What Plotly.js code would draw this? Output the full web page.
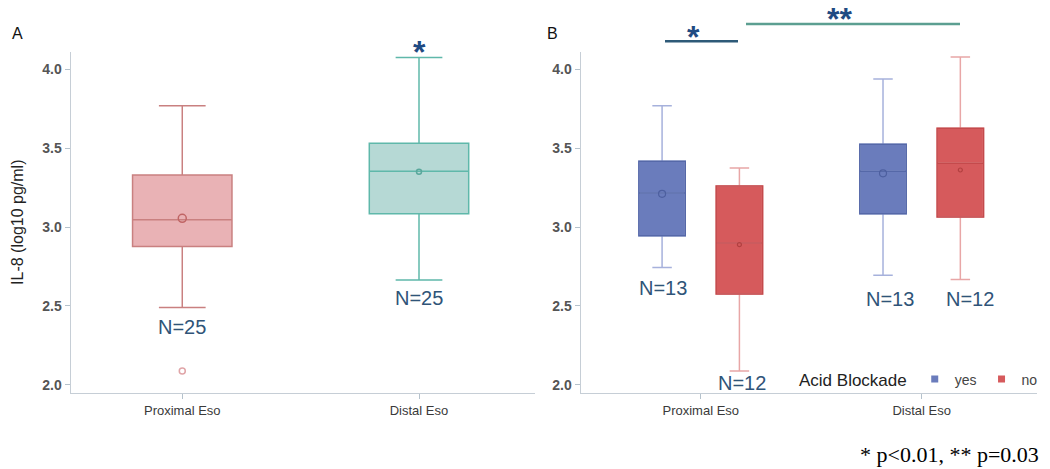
<!DOCTYPE html>
<html>
<head>
<meta charset="utf-8">
<script src="https://cdn.plot.ly/plotly-3.0.1.min.js"></script>
<style>html,body{margin:0;padding:0;background:#fff;}#chart{width:1050px;height:469px;}</style>
</head>
<body>
<div id="chart"></div>
<script>
// ---------- data ----------
const categories = ['Proximal Eso', 'Distal Eso'];

// Panel A: all patients
const allQ1 = [2.877, 3.084];
const allMedian = [3.046, 3.353];
const allQ3 = [3.330, 3.530];
const allLow = [2.490, 2.665];
const allHigh = [3.767, 4.074];
const allMean = [3.055, 3.350];
const allN = [25, 25];
const allOutlierCat = ['Proximal Eso'];
const allOutlierVal = [2.089];

// Panel B: by acid blockade
const groupNames = ['yes', 'no'];
const yesQ1 = [2.945, 3.084];
const yesMedian = [3.216, 3.353];
const yesQ3 = [3.417, 3.524];
const yesLow = [2.743, 2.694];
const yesHigh = [3.767, 3.937];
const yesMean = [3.210, 3.340];
const yesN = [13, 13];

const noQ1 = [2.576, 3.063];
const noMedian = [2.899, 3.404];
const noQ3 = [3.260, 3.626];
const noLow = [2.089, 2.668];
const noHigh = [3.374, 4.076];
const noMean = [2.888, 3.361];
const noN = [12, 12];

const yTickVals = [2.0, 2.5, 3.0, 3.5, 4.0];
const yAxisTitle = 'IL-8 (log10 pg/ml)';
const legendTitle = 'Acid Blockade';
const footnote = '* p<0.01, ** p=0.03';

// ---------- styling / layout constants ----------
const W = 1050, H = 469;
const px = v => v / W;
const py = v => 1 - v / H;
const BOXGAP = 0.3, BOXGROUPGAP = 0.4;
const groupOffset = 0.25 * (1 - BOXGAP);
const nColor = '#2f5478';
const starColor = '#1f4a82';

const leftStyle = [
  {fill: '#e9b2b5', line: '#c98080', mean: '#c06565'},
  {fill: '#b6d9d5', line: '#5fb8aa', mean: '#5aa89c'}
];
const rightStyle = {
  yes: {fill: '#6a7cbc', outline: '#5568a8', whisker: '#a6b1dc', mean: '#4d5f9f'},
  no:  {fill: '#d65a5c', outline: '#c44a4c', whisker: '#e8a6a6', mean: '#b24040'}
};

const traces = [];

// Panel A boxes
categories.forEach((c, i) => {
  traces.push({
    type: 'box', xaxis: 'x', yaxis: 'y', name: c, showlegend: false,
    x: [c], q1: [allQ1[i]], median: [allMedian[i]], q3: [allQ3[i]],
    lowerfence: [allLow[i]], upperfence: [allHigh[i]],
    boxmean: false, boxpoints: false, width: 0.42, whiskerwidth: 0.47,
    fillcolor: leftStyle[i].fill, line: {color: leftStyle[i].line, width: 1.5},
    hoverinfo: 'skip'
  });
  traces.push({
    type: 'scatter', mode: 'markers', xaxis: 'x', yaxis: 'y', showlegend: false,
    x: [c], y: [allMean[i]],
    marker: {symbol: 'circle-open', size: i === 0 ? 8 : 5, color: leftStyle[i].mean, line: {width: 1.5}},
    hoverinfo: 'skip'
  });
});
traces.push({
  type: 'scatter', mode: 'markers', xaxis: 'x', yaxis: 'y', showlegend: false,
  x: allOutlierCat, y: allOutlierVal,
  marker: {symbol: 'circle-open', size: 6, color: '#e0a5a8', line: {width: 1.5}},
  hoverinfo: 'skip'
});

// Panel B boxes
const bData = {
  yes: {q1: yesQ1, med: yesMedian, q3: yesQ3, lo: yesLow, hi: yesHigh, mean: yesMean},
  no:  {q1: noQ1,  med: noMedian,  q3: noQ3,  lo: noLow,  hi: noHigh,  mean: noMean}
};
groupNames.forEach((g, gi) => {
  const d = bData[g], s = rightStyle[g];
  // whiskers (light)
  traces.push({
    type: 'box', xaxis: 'x2', yaxis: 'y2', name: g, showlegend: false,
    alignmentgroup: 'B', offsetgroup: g,
    x: categories, q1: d.q1, median: d.med, q3: d.q3, lowerfence: d.lo, upperfence: d.hi,
    boxmean: false, boxpoints: false, whiskerwidth: 0.42,
    fillcolor: s.fill, line: {color: s.whisker, width: 1.5}, hoverinfo: 'skip'
  });
  // box outline + median (darker)
  traces.push({
    type: 'box', xaxis: 'x2', yaxis: 'y2', name: g, showlegend: false,
    alignmentgroup: 'B', offsetgroup: g,
    x: categories, q1: d.q1, median: d.med, q3: d.q3, lowerfence: d.q1, upperfence: d.q3,
    boxmean: false, boxpoints: false, whiskerwidth: 0,
    fillcolor: 'rgba(0,0,0,0)', line: {color: s.outline, width: 1.5}, hoverinfo: 'skip'
  });
  // means
  traces.push({
    type: 'scatter', mode: 'markers', xaxis: 'x3', yaxis: 'y2', showlegend: false,
    x: categories.map((c, i) => i + (gi === 0 ? -groupOffset : groupOffset)), y: d.mean,
    marker: {symbol: 'circle-open', size: gi === 0 ? 7 : 4, color: s.mean, line: {width: 1.2}},
    hoverinfo: 'skip'
  });
  // legend entry
  traces.push({
    type: 'scatter', mode: 'markers', xaxis: 'x3', yaxis: 'y2', name: g, showlegend: true,
    x: [null], y: [null],
    marker: {symbol: 'square', size: 7, color: s.fill}
  });
});

// ---------- annotations ----------
const annotations = [];
const nFont = {family: 'Liberation Sans, Arial, sans-serif', size: 20, color: nColor};
const leftShift = [-19.4, -17.7];
categories.forEach((c, i) => {
  annotations.push({xref: 'x', yref: 'y', x: c, y: allLow[i], yshift: leftShift[i],
    text: 'N=' + allN[i], showarrow: false, font: nFont, yanchor: 'middle'});
});
const rightShift = {yes: [-20.6, -23.7], no: [-12.3, -19.7]};
const rightXShift = {yes: [1, 7], no: [3, 10]};
groupNames.forEach((g, gi) => {
  const ns = g === 'yes' ? yesN : noN;
  const lo = g === 'yes' ? yesLow : noLow;
  categories.forEach((c, i) => {
    annotations.push({xref: 'x3', yref: 'y2', x: i + (gi === 0 ? -groupOffset : groupOffset), y: lo[i],
      yshift: rightShift[g][i], xshift: rightXShift[g][i],
      text: 'N=' + ns[i], showarrow: false, font: nFont, yanchor: 'middle'});
  });
});
const starFont = {family: 'Liberation Sans, Arial, sans-serif', size: 32, color: starColor, weight: 'bold'};
annotations.push({xref: 'x', yref: 'paper', x: 'Distal Eso', y: py(52), text: '*', showarrow: false, font: starFont, yanchor: 'middle'});
annotations.push({xref: 'paper', yref: 'paper', x: px(702), y: py(37), text: '*', showarrow: false, font: starFont, yanchor: 'middle'});
annotations.push({xref: 'paper', yref: 'paper', x: px(854), y: py(19.5), text: '**', showarrow: false, font: starFont, yanchor: 'middle'});
const letterFont = {family: 'Liberation Sans, Arial, sans-serif', size: 16, color: '#111'};
annotations.push({xref: 'paper', yref: 'paper', x: px(10), y: py(33), text: 'A', showarrow: false, font: letterFont, yanchor: 'middle'});
annotations.push({xref: 'paper', yref: 'paper', x: px(552), y: py(33), text: 'B', showarrow: false, font: letterFont, yanchor: 'middle'});
annotations.push({xref: 'paper', yref: 'paper', x: px(1041), y: py(454), text: footnote, showarrow: false,
  xanchor: 'right', yanchor: 'middle', font: {family: 'Liberation Serif, Times New Roman, serif', size: 22, color: '#000'}});

const shapes = [
  {type: 'line', xref: 'paper', yref: 'paper', x0: px(665), x1: px(738), y0: py(41.3), y1: py(41.3), line: {color: '#2e5a78', width: 2.5}},
  {type: 'line', xref: 'paper', yref: 'paper', x0: px(746), x1: px(960), y0: py(24), y1: py(24), line: {color: '#5c9f91', width: 2.5}}
];

// ---------- axes ----------
const yDomain = [(H - 392.7) / H, (H - 51.7) / H];
const yRange = [1.951, 4.11];
const axisLine = '#c6ced6';
const tickFont = {family: 'Liberation Sans, Arial, sans-serif', size: 14, color: '#555', weight: 'bold'};
const xTickFont = {family: 'Liberation Sans, Arial, sans-serif', size: 13, color: '#3a3a3a'};
const yAxisBase = {
  range: yRange, autorange: false, domain: yDomain, tickvals: yTickVals, tickformat: '.1f',
  showgrid: false, zeroline: false, showline: true, linecolor: axisLine, linewidth: 1.5,
  ticks: 'outside', ticklen: 5, tickcolor: '#b5c2cc', tickfont: tickFont, fixedrange: true
};
const xAxisBase = {
  type: 'category', showgrid: false, zeroline: false, showline: true, linecolor: axisLine, linewidth: 1.5,
  ticks: 'outside', ticklen: 5, tickcolor: '#b5c2cc', tickfont: xTickFont,
  categoryorder: 'array', categoryarray: categories, fixedrange: true
};

const layout = {
  width: W, height: H,
  margin: {l: 0, r: 0, t: 0, b: 0, autoexpand: false},
  paper_bgcolor: '#fff', plot_bgcolor: '#fff',
  boxmode: 'group', boxgap: BOXGAP, boxgroupgap: BOXGROUPGAP,
  showlegend: true,
  xaxis: Object.assign({}, xAxisBase, {domain: [px(71), px(535)], range: [-0.47, 1.49], anchor: 'y'}),
  yaxis: Object.assign({}, yAxisBase, {anchor: 'x',
    title: {text: yAxisTitle, standoff: 14, font: {family: 'Liberation Sans, Arial, sans-serif', size: 16, color: '#222'}}}),
  xaxis2: Object.assign({}, xAxisBase, {domain: [px(581), px(1037)], range: [-0.542, 1.522], anchor: 'y2'}),
  yaxis2: Object.assign({}, yAxisBase, {anchor: 'x2'}),
  xaxis3: {overlaying: 'x2', anchor: 'y2', type: 'linear', range: [-0.542, 1.522], visible: false, fixedrange: true},
  legend: {
    orientation: 'h', x: px(1043), xanchor: 'right', y: py(380), yanchor: 'middle',
    bgcolor: 'rgba(0,0,0,0)', itemwidth: 30,
    title: {text: legendTitle, side: 'left', font: {family: 'Liberation Sans, Arial, sans-serif', size: 17, color: '#222'}},
    font: {family: 'Liberation Sans, Arial, sans-serif', size: 14, color: '#444'}
  },
  annotations: annotations,
  shapes: shapes
};

Plotly.newPlot('chart', traces, layout, {displayModeBar: false, staticPlot: true});
</script>
</body>
</html>
